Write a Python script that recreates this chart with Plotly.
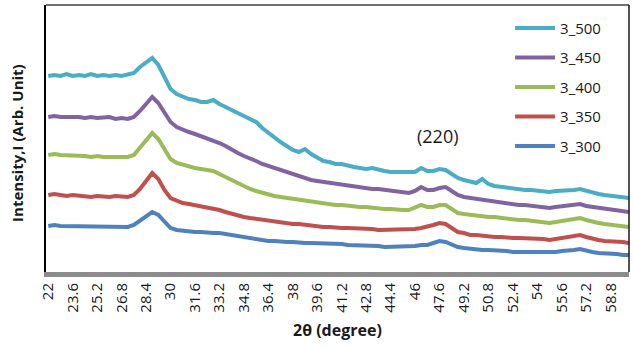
import plotly.graph_objects as go

# 2-theta scan positions (degrees), 0.4 deg steps
two_theta = [round(22.0 + 0.4 * i, 1) for i in range(96)]

# Intensity (arbitrary units), one list per annealing temperature
i_300 = [46, 47, 46, 46, 45, 46, 46, 45, 45, 46,
         45, 45, 46, 45, 47, 51, 55, 60, 57, 50,
         44, 42, 41, 41, 40, 40, 39, 39, 39, 38,
         36, 35, 34, 33, 33, 32, 31, 31, 30, 30,
         30, 29, 29, 29, 29, 28, 28, 28, 28, 27,
         27, 26, 27, 26, 26, 25, 25, 25, 25, 25,
         26, 27, 27, 29, 31, 30, 27, 25, 24, 23,
         23, 22, 22, 22, 21, 21, 20, 20, 20, 20,
         19, 19, 19, 20, 21, 21, 22, 23, 21, 20,
         19, 19, 18, 18, 17, 17]
i_350 = [77, 78, 77, 76, 77, 76, 76, 75, 76, 75,
         75, 76, 75, 75, 77, 83, 91, 99, 93, 82,
         74, 71, 69, 68, 67, 66, 65, 63, 62, 60,
         58, 57, 55, 54, 53, 52, 51, 50, 49, 49,
         48, 48, 47, 46, 45, 45, 45, 44, 44, 44,
         44, 44, 43, 43, 42, 42, 42, 42, 42, 42,
         43, 44, 45, 47, 49, 48, 44, 40, 39, 37,
         37, 36, 35, 35, 35, 34, 34, 34, 34, 33,
         33, 33, 32, 33, 34, 35, 36, 37, 35, 33,
         32, 31, 31, 30, 30, 29]
i_400 = [117, 118, 117, 117, 116, 117, 116, 115, 116, 115,
         115, 116, 115, 115, 117, 124, 131, 139, 133, 122,
         113, 109, 107, 106, 104, 103, 102, 101, 98, 95,
         91, 88, 85, 83, 81, 79, 78, 76, 75, 74,
         73, 72, 71, 70, 69, 69, 68, 67, 67, 66,
         66, 65, 65, 64, 64, 63, 63, 62, 62, 62,
         64, 67, 65, 65, 67, 67, 63, 59, 58, 57,
         56, 56, 55, 55, 54, 54, 53, 52, 52, 51,
         51, 50, 49, 50, 51, 52, 53, 54, 52, 50,
         49, 48, 47, 47, 46, 45]
i_450 = [155, 156, 155, 155, 156, 155, 154, 155, 154, 154,
         155, 153, 154, 153, 155, 161, 168, 175, 169, 159,
         150, 145, 142, 140, 138, 136, 134, 132, 129, 126,
         122, 119, 116, 114, 111, 108, 106, 103, 101, 99,
         97, 95, 94, 92, 91, 90, 89, 88, 87, 86,
         85, 84, 84, 83, 83, 82, 81, 80, 80, 79,
         81, 85, 82, 82, 84, 85, 81, 77, 75, 74,
         73, 72, 71, 70, 70, 69, 68, 67, 67, 66,
         66, 65, 64, 65, 66, 67, 67, 68, 66, 65,
         64, 63, 62, 62, 61, 60]
i_500 = [196, 197, 196, 198, 196, 197, 196, 198, 196, 197,
         196, 197, 196, 197, 199, 205, 210, 214, 207, 195,
         183, 178, 175, 173, 172, 170, 170, 172, 168, 165,
         161, 158, 156, 153, 150, 144, 139, 134, 130, 126,
         122, 120, 123, 118, 114, 111, 110, 108, 108, 106,
         105, 104, 103, 104, 102, 101, 100, 100, 99, 99,
         100, 104, 101, 101, 103, 102, 98, 94, 92, 90,
         89, 93, 88, 86, 85, 84, 84, 83, 82, 82,
         81, 81, 80, 81, 81, 82, 82, 83, 81, 79,
         78, 77, 76, 76, 75, 74]

# Legend order: highest temperature first
series_names = ["3_500", "3_450", "3_400", "3_350", "3_300"]
series_values = [i_500, i_450, i_400, i_350, i_300]
series_colors = ["#4BACC6", "#8064A2", "#9BBB59", "#C0504D", "#4F81BD"]

# Category-style tick labels every 1.6 degrees
tick_vals = [round(22.0 + 1.6 * k, 1) for k in range(24)]
tick_text = [f"{v:g}" for v in tick_vals]

FONT = "Open Sans"

fig = go.Figure()
for name, vals, col in zip(series_names, series_values, series_colors):
    fig.add_trace(go.Scatter(
        x=two_theta, y=vals, mode="lines", name=name, legendgroup=name,
        line=dict(color=col, width=4, shape="linear"),
    ))

fig.update_layout(
    width=633, height=349,
    margin=dict(l=46, r=4, t=5, b=77),
    paper_bgcolor="white", plot_bgcolor="white",
    font=dict(family=FONT, size=15, color="#1a1a1a"),
    showlegend=True,
    legend=dict(
        x=0.796, y=0.975, xanchor="left", yanchor="top",
        traceorder="grouped", tracegroupgap=7,
        bgcolor="rgba(0,0,0,0)", borderwidth=0,
        font=dict(family=FONT, size=15, color="#1a1a1a"),
        itemwidth=40,
    ),
    xaxis=dict(
        range=[21.85, 60.0], tickmode="array", tickvals=tick_vals,
        ticktext=tick_text, tickangle=-90, ticks="", showgrid=False,
        zeroline=False, showline=True, linecolor="#8c8c8c", linewidth=5,
        tickfont=dict(family=FONT, size=15, color="#1a1a1a"),
    ),
    yaxis=dict(
        range=[0, 267], showticklabels=False, ticks="", showgrid=False,
        zeroline=False, showline=True, linecolor="black", linewidth=2,
    ),
    shapes=[
        dict(type="line", xref="paper", yref="paper", x0=0, x1=1, y0=1, y1=1,
             line=dict(color="#404040", width=1.5)),
        dict(type="line", xref="paper", yref="paper", x0=1, x1=1, y0=0, y1=1,
             line=dict(color="#1a1a1a", width=1.5)),
    ],
    annotations=[
        dict(text="(220)", x=47.5, y=136, xref="x", yref="y", showarrow=False,
             font=dict(family=FONT, size=18, color="#1a1a1a")),
        dict(text="<b>2θ (degree)</b>", x=0.5, y=-0.217, xref="paper", yref="paper",
             showarrow=False, xanchor="center", yanchor="middle",
             font=dict(family=FONT, size=16, color="#1a1a1a")),
        dict(text="<b>Intensity,I (Arb. Unit)</b>", x=-0.05, y=0.483,
             xref="paper", yref="paper", showarrow=False, textangle=-90,
             xanchor="center", yanchor="middle",
             font=dict(family=FONT, size=15, color="#1a1a1a")),
    ],
)

fig.write_html("out.html")
